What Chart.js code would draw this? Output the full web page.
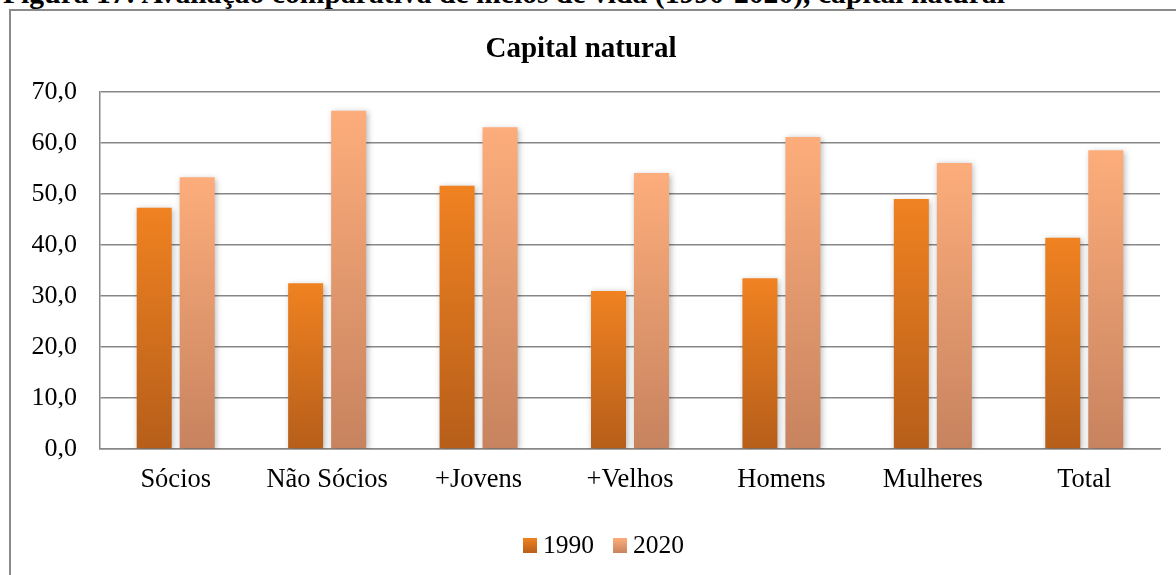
<!DOCTYPE html>
<html>
<head>
<meta charset="utf-8">
<script src="https://cdn.jsdelivr.net/npm/chart.js@4.4.1/dist/chart.umd.min.js"></script>
<style>
  html, body { margin: 0; padding: 0; background: #fff; overflow: hidden; width: 1176px; height: 575px; }
  #caption { position: absolute; left: 3px; top: -17px; font-family: "Liberation Serif", serif; font-weight: bold; font-size: 25px; line-height: 1; white-space: nowrap; color: #000; }
  #frame { position: absolute; left: 9px; top: 9px; width: 1300px; height: 700px; border: 2px solid #8a8a8a; }
  #wrap { position: absolute; left: 0; top: 0; width: 1176px; height: 575px; }
  #legend { position: absolute; top: 530px; left: 0; width: 1176px; font-family: "Liberation Serif", serif; font-size: 25.5px; color: #000; }
  .item { position: absolute; display: flex; align-items: center; }
  .sw { width: 14px; height: 15px; margin-right: 6px; }
</style>
</head>
<body>
<div id="caption">Figura 17: Avaliação comparativa de meios de vida (1990-2020), capital natural</div>
<div id="frame"></div>
<div id="wrap"><canvas id="c" width="1176" height="575"></canvas></div>
<div id="legend">
  <div class="item" style="left:523px"><div class="sw" style="background:linear-gradient(#f08221,#b85f1a)"></div><span>1990</span></div>
  <div class="item" style="left:613px"><div class="sw" style="background:linear-gradient(#fdad7b,#c8845f)"></div><span>2020</span></div>
</div>
<script>
const categories = ['Sócios', 'Não Sócios', '+Jovens', '+Velhos', 'Homens', 'Mulheres', 'Total'];
const values1990 = [47.3, 32.5, 51.6, 31.0, 33.5, 49.0, 41.4];
const values2020 = [53.3, 66.3, 63.1, 54.1, 61.2, 56.1, 58.6];
const seriesNames = ['1990', '2020'];
const yMin = 0, yMax = 70, yStep = 10;

// fit caption width
(function(){
  const cap = document.getElementById('caption');
  const w = cap.getBoundingClientRect().width;
  const target = 1002;
  const fs = 25 * target / w;
  cap.style.fontSize = fs.toFixed(2) + 'px';
  cap.style.top = (5 - 0.891 * fs).toFixed(1) + 'px';
})();

function barGradient(top, bottom) {
  return function(ctx) {
    const chart = ctx.chart;
    const area = chart.chartArea;
    if (!area || ctx.type !== 'data') return top;
    const ys = chart.scales.y;
    const yTop = ys.getPixelForValue(ctx.raw);
    const yBot = ys.getPixelForValue(0);
    const g = chart.ctx.createLinearGradient(0, yTop, 0, yBot);
    g.addColorStop(0, top);
    g.addColorStop(1, bottom);
    return g;
  };
}

const shadowPlugin = {
  id: 'barShadow',
  beforeDatasetsDraw(chart) {
    const c = chart.ctx;
    c.save();
    c.shadowColor = 'rgba(0,0,0,0.28)';
    c.shadowBlur = 6;
    c.shadowOffsetX = 1.5;
    c.shadowOffsetY = 1.5;
  },
  afterDatasetsDraw(chart) { chart.ctx.restore(); }
};

const serif = '"Liberation Serif", "Times New Roman", serif';
const gridColor = '#878787';

new Chart(document.getElementById('c'), {
  type: 'bar',
  data: {
    labels: categories,
    datasets: [
      { label: seriesNames[0], data: values1990, backgroundColor: barGradient('#f08221', '#b65e1a'), categoryPercentage: 0.568, barPercentage: 0.814 },
      { label: seriesNames[1], data: values2020, backgroundColor: barGradient('#fdad7b', '#c7835f'), categoryPercentage: 0.568, barPercentage: 0.814 }
    ]
  },
  plugins: [shadowPlugin],
  options: {
    responsive: false,
    animation: false,
    layout: { padding: { left: 2, right: 16, top: 0, bottom: 76 } },
    plugins: {
      legend: { display: false },
      tooltip: { enabled: false },
      title: {
        display: true,
        text: 'Capital natural',
        color: '#000',
        font: { family: serif, size: 29, weight: 'bold', lineHeight: 1.2 },
        padding: { top: 32, bottom: 25.2 }
      }
    },
    scales: {
      x: {
        grid: { display: false, drawTicks: false },
        border: { display: true, color: gridColor, width: 1.5 },
        ticks: { color: '#000', font: { family: serif, size: 26.5, lineHeight: 1.2 }, padding: 15, maxRotation: 0 },
        afterFit(s) { s.height = 50; }
      },
      y: {
        min: yMin, max: yMax,
        grid: { color: gridColor, lineWidth: 1.5, drawTicks: false },
        border: { display: true, color: gridColor, width: 1.5 },
        ticks: {
          stepSize: yStep, color: '#000', padding: 23,
          font: { family: serif, size: 26 },
          callback: v => v.toFixed(1).replace('.', ',')
        },
        afterFit(s) { s.width = 98; }
      }
    }
  }
});
</script>
</body>
</html>
